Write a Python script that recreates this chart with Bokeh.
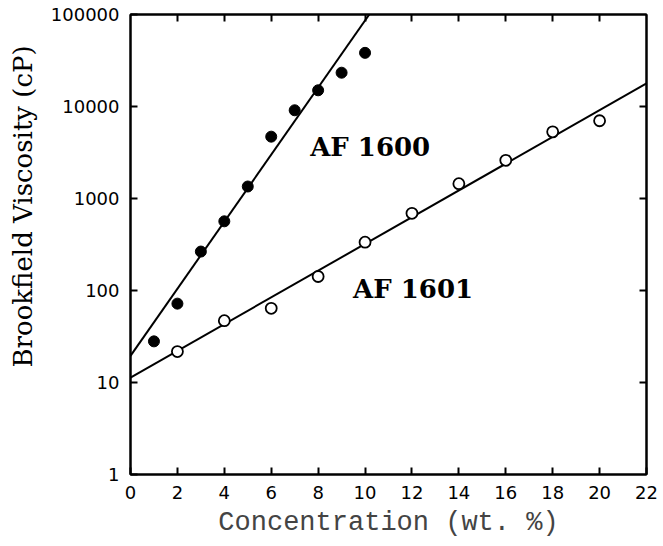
import math
from bokeh.plotting import figure
from bokeh.models import FixedTicker, Title, ColumnDataSource, LinearAxis, LogAxis
from bokeh.core.properties import value
from bokeh.embed import file_html
from bokeh.resources import INLINE

# ---- data ----
af1600_x = [1, 2, 3, 4, 5, 6, 7, 8, 9, 10]
af1600_y = [28, 72, 265, 565, 1350, 4700, 9100, 15000, 23300, 38300]

af1601_x = [2, 4, 6, 8, 10, 12, 14, 16, 18, 20]
af1601_y = [21.7, 47, 64, 142, 335, 690, 1450, 2600, 5300, 7000]

fit1600_x = [0, 10.18]
fit1600_y = [19.5, 100000]
fit1601_x = [0, 22]
fit1601_y = [11.3, 17800]

x_ticks = [0, 2, 4, 6, 8, 10, 12, 14, 16, 18, 20, 22]
y_ticks = [1, 10, 100, 1000, 10000, 100000]
y_tick_labels = ["1", "10", "100", "1000", "10000", "100000"]

series_names = ["AF 1600", "AF 1601"]
name_x = [7.66, 9.49]
name_y = [3670, 105]

x_title = "Concentration (wt. %)"
y_title = "Brookfield Viscosity (cP)"

X_MIN, X_MAX = 0, 22
Y_MIN, Y_MAX = 1, 100000

# ---- figure ----
p = figure(width=663, height=546, x_range=(X_MIN, X_MAX), y_range=(Y_MIN, Y_MAX),
           y_axis_type="log", output_backend="svg", toolbar_location=None,
           min_border_left=130, min_border_right=17, min_border_top=14,
           min_border_bottom=72)
p.grid.visible = False
p.outline_line_color = "black"
p.outline_line_width = 2
p.background_fill_color = "white"
p.border_fill_color = "white"

tick_font = "DejaVu Sans"

bottom_ax = p.below[0]
left_ax = p.left[0]

bottom_ax.ticker = FixedTicker(ticks=x_ticks, minor_ticks=[])
left_ax.ticker = FixedTicker(ticks=y_ticks, minor_ticks=[])
left_ax.major_label_overrides = {float(t): l for t, l in zip(y_ticks, y_tick_labels)}

# tick-only axes on the top and right frame edges
top_ax = LinearAxis(ticker=FixedTicker(ticks=x_ticks[1:-1], minor_ticks=[]),
                    major_label_overrides={float(t): "" for t in x_ticks})
right_ax = LogAxis(ticker=FixedTicker(ticks=y_ticks[1:-1], minor_ticks=[]),
                   major_label_overrides={float(t): "" for t in y_ticks})
p.add_layout(top_ax, "above")
p.add_layout(right_ax, "right")

for ax in (bottom_ax, left_ax, top_ax, right_ax):
    ax.axis_line_width = 2
    ax.major_tick_in = 7
    ax.major_tick_out = 0
    ax.major_tick_line_width = 2
    ax.minor_tick_line_color = None
    ax.major_label_text_font = tick_font
    ax.major_label_text_font_size = "18px"
    ax.major_label_text_color = "black"

top_ax.major_label_standoff = 0
right_ax.major_label_standoff = 0
bottom_ax.major_label_standoff = 11
left_ax.major_label_standoff = 11

bottom_ax.axis_label = x_title
bottom_ax.axis_label_text_font = "Liberation Mono"
bottom_ax.axis_label_text_font_size = "27px"
bottom_ax.axis_label_text_font_style = "normal"
bottom_ax.axis_label_standoff = 6

# fit lines
p.line(fit1600_x, fit1600_y, line_color="black", line_width=2)
p.line(fit1601_x, fit1601_y, line_color="black", line_width=2)

# points
p.scatter(af1600_x, af1600_y, marker="circle", size=11,
          fill_color="black", line_color="black")
p.scatter(af1601_x, af1601_y, marker="circle", size=11,
          fill_color="white", line_color="black", line_width=1.8)

# series names
src = ColumnDataSource(dict(x=name_x, y=name_y, t=series_names))
p.text(x="x", y="y", text="t", source=src, text_font=value("DejaVu Serif"),
       text_font_style="bold", text_font_size="26px", text_color="black",
       text_baseline="alphabetic", text_align="left")

# y axis title (sits higher than centre, as in the reference)
p.add_layout(Title(text=y_title, align="left", offset=107,
                   vertical_align="top", standoff=15,
                   text_font="DejaVu Serif", text_font_size="26px",
                   text_font_style="normal", text_color="black"), "left")

open("out.html", "w").write(file_html(p, INLINE))
